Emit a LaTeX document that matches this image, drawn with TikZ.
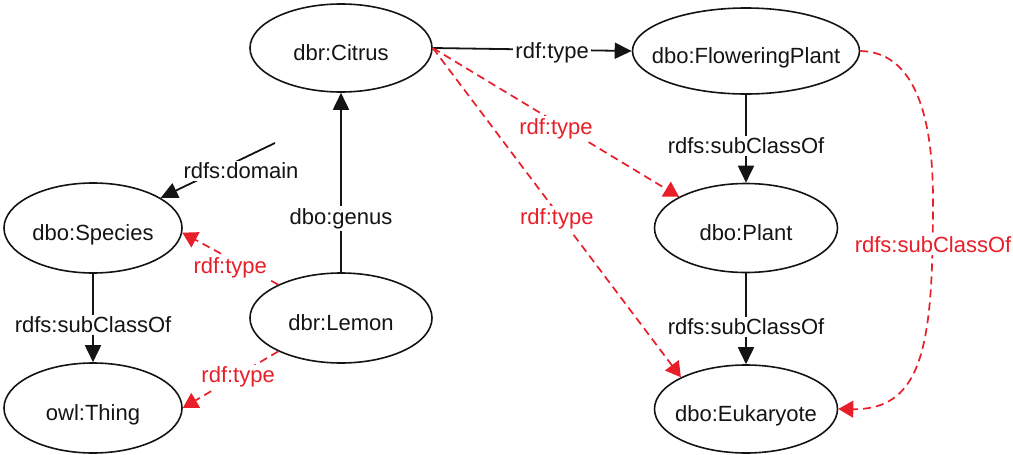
\documentclass[tikz,border=0pt]{standalone}
\usepackage{fontspec}
\setmainfont{Liberation Sans}
\usetikzlibrary{shapes.geometric,arrows.meta}
\definecolor{rdred}{RGB}{232,30,40}
\definecolor{ink}{RGB}{20,20,20}
\begin{document}
\begin{tikzpicture}[x=1pt,y=-1pt,
  ent/.style={ellipse, draw=ink, line width=1.6pt, inner xsep=-20pt, inner ysep=0pt, text=ink,
    font=\fontsize{22}{26}\selectfont, text height=25pt, text depth=0pt},
  blk/.style={draw=ink, line width=1.8pt, -{Triangle[length=17pt,width=16pt]}},
  rdedge/.style={draw=rdred, line width=1.7pt, dash pattern=on 8pt off 5pt,
    -{Triangle[length=15pt,width=17pt]}},
  lbl/.style={fill=white, inner sep=2pt, text=ink, font=\fontsize{22}{26}\selectfont},
  rlbl/.style={lbl, text=rdred}]
\useasboundingbox (0,0) rectangle (1013,455);

\node[ent, minimum width=182pt, minimum height=88pt] (Citrus) at (341,48) {dbr:Citrus};
\node[ent, minimum width=227pt, minimum height=86pt] (FP) at (746,51) {dbo:FloweringPlant};
\node[ent, minimum width=183pt, minimum height=89pt] (Plant) at (746,228) {dbo:Plant};
\node[ent, minimum width=183pt, minimum height=88pt] (Euk) at (746,409) {dbo:Eukaryote};
\node[ent, minimum width=178pt, minimum height=90pt] (Species) at (93,228) {dbo:Species};
\node[ent, minimum width=178pt, minimum height=90pt] (Thing) at (93,408) {owl:Thing};
\node[ent, minimum width=182pt, minimum height=90pt] (Lemon) at (341,318) {dbr:Lemon};

% black edges
\draw[blk] (Citrus.east) -- (FP.west) node[lbl, pos=0.6, yshift=-3pt] {rdf:type};
\draw[blk] (FP.south) -- (Plant.north) node[lbl, pos=0.58] {rdfs:subClassOf};
\draw[blk] (Plant.south) -- (Euk.north) node[lbl, pos=0.59] {rdfs:subClassOf};
\draw[blk] (Species.south) -- (Thing.north) node[lbl, pos=0.58] {rdfs:subClassOf};
\draw[blk] (Lemon.north) -- (Citrus.south) node[lbl, pos=0.31, yshift=-2pt] {dbo:genus};

\coordinate (domA) at (275,143);
\draw[blk] (domA) -- (Species.24);
\node[lbl] (domL) at (241,171) {rdfs:domain};

% red dashed edges
\draw[rdedge] (Citrus.east) -- (Plant.155) node[rlbl, pos=0.5, yshift=-6pt] {rdf:type};
\draw[rdedge] (Citrus.east) -- (Euk.154) node[rlbl, pos=0.5, yshift=-6pt] {rdf:type};
\draw[rdedge] (Lemon.152) -- (Species.-3) node[rlbl, pos=0.5, yshift=-9pt] {rdf:type};
\draw[rdedge] (Lemon.208) -- (Thing.east) node[rlbl, pos=0.42, yshift=-2pt] {rdf:type};
\draw[rdedge] (FP.east) .. controls (912,52) and (933,110) .. (933,200)
  .. controls (933,340) and (925,410) .. (Euk.east);
\node[rlbl] (subL) at (933,245) {rdfs:subClassOf};
\end{tikzpicture}
\end{document}
